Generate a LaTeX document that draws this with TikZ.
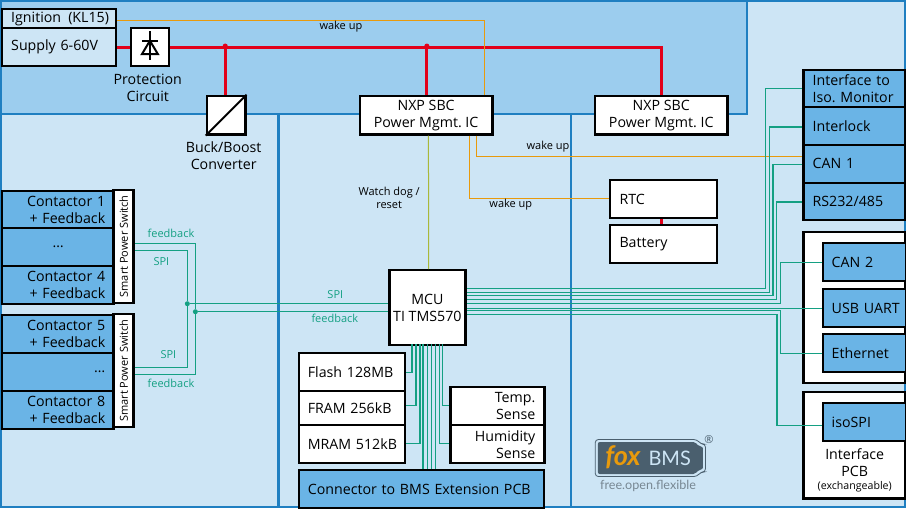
\documentclass[tikz,border=0pt]{standalone}
\usepackage{fontspec}
\setmainfont{Open Sans}
\newfontfamily\logofont{Lato}
\definecolor{zonelight}{HTML}{CDE5F5}
\definecolor{zonedark}{HTML}{9CCDEE}
\definecolor{zoneline}{HTML}{1F7FC1}
\definecolor{boxblue}{HTML}{6AB4E6}
\definecolor{powerred}{HTML}{E2001A}
\definecolor{sigcolor}{HTML}{14A083}
\definecolor{wakecolor}{HTML}{E89A0C}
\definecolor{resetcolor}{HTML}{A9B83A}
\definecolor{logodark}{HTML}{4A5F6E}
\begin{document}
\begin{tikzpicture}[x=1.0055pt,y=-1pt,font=\fontsize{14.2}{17}\selectfont]
    \tikzstyle{plainbox}=[draw=black,line width=2.4pt,fill=white,anchor=north west,inner sep=0pt,align=center]
    \tikzstyle{bluebox}=[plainbox,fill=boxblue]
    \tikzstyle{lefttext}=[align=left,inner xsep=9pt]
    \tikzstyle{righttext}=[align=right,inner xsep=9pt]
    \tikzstyle{caption}=[align=center,inner sep=0pt]
    \tikzstyle{smalltext}=[caption,font=\fontsize{11}{13}\selectfont]
    \tikzstyle{siglabel}=[smalltext,text=sigcolor]
    \tikzstyle{sig}=[draw=sigcolor,line width=1.1pt]
    \tikzstyle{wake}=[draw=wakecolor,line width=1pt]
    \tikzstyle{power}=[draw=powerred,line width=2.8pt]
    \tikzstyle{junction}=[circle,inner sep=0pt,minimum size=5pt]
    \useasboundingbox (0,0) rectangle (901,508);
    \begin{scope}
        \fill[zonelight] (0,0) rectangle (901,508);
        \fill[zonedark] (0,0) rectangle (743,114);
        \draw[zoneline,line width=2.4pt] (743,0) -- (743,114) -- (0,114);
        \draw[zoneline,line width=2.4pt] (277,114) -- (277,508);
        \draw[zoneline,line width=2.4pt] (568,114) -- (568,508);
        \draw[zoneline,line width=2.4pt] (1,1) rectangle (900,507);
    \end{scope}
    \begin{scope}
        \node[plainbox,fill=zonelight,minimum width=114pt,minimum height=19pt,text width=96pt,lefttext] (ignition) at (1,8) {\mbox{Ignition\, (KL15)}};
        \node[plainbox,fill=zonelight,minimum width=114pt,minimum height=38pt,text width=96pt,lefttext] (supply) at (1,27) {Supply 6-60V};
        \node[plainbox,minimum width=38pt,minimum height=38pt] (protect) at (129,27) {};
        \node[caption] (protectlabel) at (147,87.5) {Protection\\Circuit};
        \node[plainbox,minimum width=38.5pt,minimum height=38.5pt] (buck) at (204.5,94.7) {};
        \node[caption] (bucklabel) at (222.5,155.5) {Buck/Boost\\Converter};
        \node[plainbox,minimum width=132.5pt,minimum height=38.5pt] (sbca) at (356.7,94.7) {NXP SBC\\Power Mgmt.\ IC};
        \node[plainbox,minimum width=132.5pt,minimum height=38.5pt] (sbcb) at (590.5,94.7) {NXP SBC\\Power Mgmt.\ IC};
        \node[plainbox,minimum width=106.5pt,minimum height=38pt,text width=88pt,lefttext] (rtc) at (605.7,179) {RTC};
        \node[plainbox,minimum width=106.5pt,minimum height=37.5pt,text width=88pt,lefttext] (battery) at (605.7,224) {Battery};
    \end{scope}
    \begin{scope}
        \node[bluebox,minimum width=112pt,minimum height=37pt,text width=94pt,righttext] (contone) at (1,190) {Contactor 1\\+ Feedback};
        \node[bluebox,minimum width=112pt,minimum height=38pt] (conttwo) at (1,227) {\dots};
        \node[bluebox,minimum width=112pt,minimum height=38pt,text width=94pt,righttext] (contfour) at (1,265) {Contactor 4\\+ Feedback};
        \node[plainbox,anchor=center,rotate=90,font=\fontsize{11}{13}\selectfont,minimum width=113pt,minimum height=20pt] (swa) at (123,246.3) {Smart Power Switch};
        \node[bluebox,minimum width=112pt,minimum height=38pt,text width=94pt,righttext] (contfive) at (1,314) {Contactor 5\\+ Feedback};
        \node[bluebox,minimum width=112pt,minimum height=37.5pt,text width=94pt,righttext] (contsix) at (1,352) {\dots};
        \node[bluebox,minimum width=112pt,minimum height=38pt,text width=94pt,righttext] (conteight) at (1,389.5) {Contactor 8\\+ Feedback};
        \node[plainbox,anchor=center,rotate=90,font=\fontsize{11}{13}\selectfont,minimum width=113pt,minimum height=20pt] (swb) at (123,370.7) {Smart Power Switch};
    \end{scope}
    \begin{scope}
        \node[plainbox,minimum width=76pt,minimum height=75pt] (mcu) at (386,269) {MCU\\TI TMS570};
        \node[plainbox,minimum width=106pt,minimum height=38pt,text width=88pt,lefttext] (flash) at (296,352) {Flash 128MB};
        \node[plainbox,minimum width=106pt,minimum height=34pt,text width=88pt,lefttext] (fram) at (296,390) {FRAM 256kB};
        \node[plainbox,minimum width=106pt,minimum height=38pt,text width=88pt,lefttext] (mram) at (296,424) {\mbox{MRAM 512kB}};
        \node[plainbox,minimum width=94pt,minimum height=38pt,text width=76pt,righttext] (temp) at (446.7,386) {Temp.\hspace*{3pt}\\Sense};
        \node[plainbox,minimum width=94pt,minimum height=38pt,text width=76pt,righttext] (humidity) at (446.7,424) {Humidity\hspace*{6.5pt}\\Sense};
        \node[bluebox,minimum width=245pt,minimum height=38pt,text width=227pt,lefttext] (connector) at (296,469) {\mbox{Connector to BMS Extension PCB}};
    \end{scope}
    \begin{scope}
        \node[bluebox,minimum width=102pt,minimum height=37pt,text width=84pt,lefttext] (isomon) at (798,69) {\mbox{Interface to}\\\mbox{Iso.\ Monitor}};
        \node[bluebox,minimum width=102pt,minimum height=37.5pt,text width=84pt,lefttext] (interlock) at (798,106) {Interlock};
        \node[bluebox,minimum width=102pt,minimum height=38pt,text width=84pt,lefttext] (canone) at (798,143.5) {CAN 1};
        \node[bluebox,minimum width=102pt,minimum height=37.5pt,text width=84pt,lefttext] (rsport) at (798,181.5) {RS232/485};
        \node[plainbox,minimum width=102pt,minimum height=150.5pt] (pcba) at (798,231) {};
        \node[bluebox,minimum width=83pt,minimum height=38pt,text width=65pt,lefttext] (cantwo) at (817,242) {CAN 2};
        \node[bluebox,minimum width=83pt,minimum height=38pt,text width=65pt,lefttext] (usbuart) at (817,288) {\mbox{USB UART}};
        \node[bluebox,minimum width=83pt,minimum height=38pt,text width=65pt,lefttext] (ethernet) at (817,333) {Ethernet};
        \node[plainbox,minimum width=102pt,minimum height=106.5pt] (pcbb) at (798,390.7) {};
        \node[bluebox,minimum width=83pt,minimum height=38pt,text width=65pt,lefttext] (isospi) at (817,402) {isoSPI};
        \node[caption] (pcblabel) at (850,462.5) {Interface\\PCB};
        \node[smalltext,font=\fontsize{10.6}{12}\selectfont] (pcbnote) at (850,486.5) {(exchangeable)};
    \end{scope}
    \begin{scope}
        \node[junction,fill=powerred] (dota) at (224,46) {};
        \node[junction,fill=powerred] (dotb) at (424.5,46) {};
        \draw[power] (supply.east) -- (protect.west);
        \draw[power] (protect.east) -| (sbcb.north);
        \draw[power] (dota) -- (dota |- buck.north);
        \draw[power] (dotb) -- (dotb |- sbca.north);
        \draw[power] (rtc.south -| sbcb.south) -- (battery.north -| sbcb.south);
    \end{scope}
    \begin{scope}
        \draw[line width=2pt] ([yshift=16]protect.center) -- ([yshift=-13]protect.center);
        \draw[line width=2pt] ([xshift=-8,yshift=6.5]protect.center) -- ([xshift=8,yshift=6.5]protect.center);
        \draw[line width=2pt] ([yshift=6.5]protect.center) -- ([xshift=-8,yshift=-7]protect.center) -- ([xshift=8,yshift=-7]protect.center) -- cycle;
        \draw[line width=2pt] (buck.south west) -- (buck.north east);
    \end{scope}
    \begin{scope}
        \draw[wake] ([yshift=-2]ignition.east) -| ([xshift=58.5]sbca.north);
        \node[smalltext] (wakea) at (339,27) {wake up};
        \draw[wake] ([xshift=50.3]sbca.south) |- (canone.west |- 0,156.3);
        \node[smalltext] (wakeb) at (545,147) {wake up};
        \draw[wake] ([xshift=43.7]sbca.south) |- ([yshift=0.7]rtc.west);
        \node[smalltext] (wakec) at (508,205) {wake up};
        \draw[draw=resetcolor,line width=1pt] ([xshift=2.3]sbca.south) -- ([xshift=1.3]mcu.north);
        \node[smalltext] (watchdog) at (387,197.5) {Watch dog /\\reset};
    \end{scope}
    \begin{scope}
        \node[junction,fill=sigcolor] (spidot) at (186.3,303.7) {};
        \node[junction,fill=sigcolor] (fbdot) at (194.3,311.7) {};
        \draw[sig] ([yshift=3]swa.south) -| (fbdot);
        \draw[sig] ([yshift=-4.4]swa.south) -| (spidot);
        \draw[sig] ([yshift=3]swb.south) -| (spidot);
        \draw[sig] ([yshift=-3.6]swb.south) -| (fbdot);
        \draw[sig] (spidot) -- (spidot -| mcu.west);
        \draw[sig] (fbdot) -- (fbdot -| mcu.west);
        \node[siglabel] (fblabela) at (170,233) {feedback};
        \node[siglabel] (spilabela) at (160.5,262) {SPI};
        \node[siglabel] (spilabelb) at (167.5,355) {SPI};
        \node[siglabel] (fblabelb) at (170,383) {feedback};
        \node[siglabel] (spilabelc) at (333.5,295) {SPI};
        \node[siglabel] (fblabelc) at (333,318) {feedback};
    \end{scope}
    \begin{scope}
        \draw[sig] (isomon.west) -| (761.5,288.3) -- (mcu.east |- 0,288.3);
        \draw[sig] ([yshift=-1]interlock.west) -| (765,292.3) -- (mcu.east |- 0,292.3);
        \draw[sig] ([yshift=-1]canone.west) -| (768.7,295.7) -- (mcu.east |- 0,295.7);
        \draw[sig] ([yshift=-0.5]rsport.west) -| (772.5,299.3) -- (mcu.east |- 0,299.3);
        \draw[sig] ([yshift=-0.5]cantwo.west) -| (776.3,303.3) -- (mcu.east |- 0,303.3);
        \draw[sig] (usbuart.west) -- (mcu.east |- usbuart.west);
        \draw[sig] (ethernet.west) -| (776.3,310.7) -- (mcu.east |- 0,310.7);
        \draw[sig] ([yshift=-3.3]isospi.west) -| (772.7,314.3) -- (mcu.east |- 0,314.3);
        \draw[sig] (flash.east) -| (409.7,343.7);
        \draw[sig] (flash.east |- 0,405.7) -| (413.7,343.7);
        \draw[sig] ([yshift=0.3]mram.east) -| (417.7,343.7);
        \draw[sig] (420.7,343.7) -- (connector.north -| 420.7,0);
        \draw[sig] (424.7,343.7) -- (connector.north -| 424.7,0);
        \draw[sig] (428.7,343.7) -- (connector.north -| 428.7,0);
        \draw[sig] (432.7,343.7) -- (connector.north -| 432.7,0);
        \draw[sig] ([yshift=0.3]humidity.west) -| (436.7,343.7);
        \draw[sig] (temp.west |- 0,405.7) -| (439.7,343.7);
    \end{scope}
    \begin{scope}
        \draw[logodark,line width=0.8pt,rounded corners=3pt] (592,439.5) -- (693,439.5) -- (697,444) -- (701.5,444) -- (701.5,472) -- (697,472) -- (693,476.5) -- (592,476.5) -- cycle;
        \fill[logodark,rounded corners=2pt] (594.5,442) -- (691.5,442) -- (695,446.5) -- (699,446.5) -- (699,469.5) -- (695,469.5) -- (691.5,474) -- (594.5,474) -- cycle;
        \node[caption,font=\logofont\itshape\bfseries\fontsize{27}{27}\selectfont,text=wakecolor] (logofox) at (619.5,457) {fox};
        \node[caption,font=\logofont\fontsize{20}{20}\selectfont,text=zonelight] (logobms) at (666,458) {BMS};
        \node[caption,font=\fontsize{11}{12}\selectfont,text=logodark] (logomark) at (705,440) {®};
        \node[caption,font=\logofont\fontsize{12.6}{14}\selectfont,text=logodark!75] (logotag) at (644.5,486) {free.open.flexible};
    \end{scope}
\end{tikzpicture}
\end{document}
